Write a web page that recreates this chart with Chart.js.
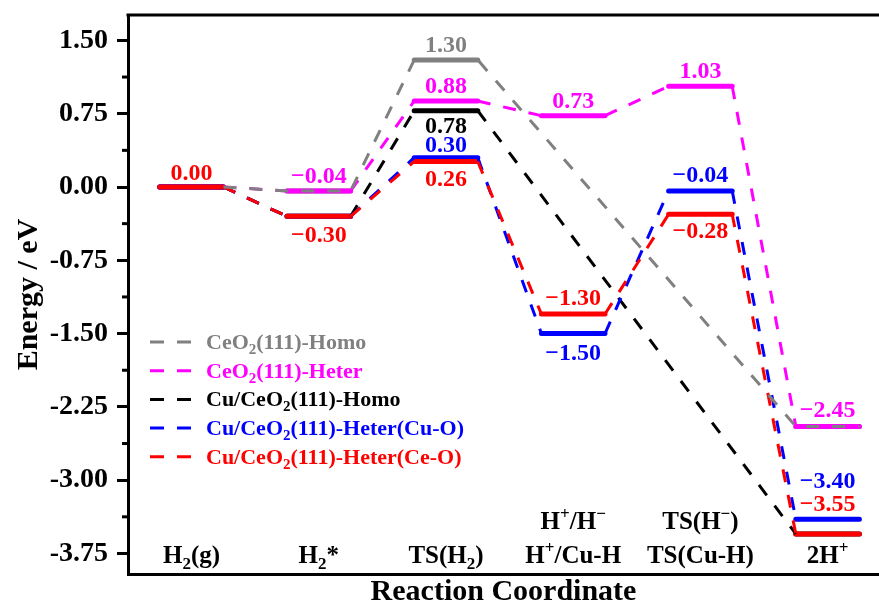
<!DOCTYPE html>
<html>
<head>
<meta charset="utf-8">
<script src="https://cdn.jsdelivr.net/npm/chart.js@4.4.1/dist/chart.umd.min.js"></script>
<style>
  html, body { margin: 0; padding: 0; background: #fff; }
  #wrap { width: 879px; height: 605px; overflow: hidden; }
</style>
</head>
<body>
<div id="wrap"><canvas id="energyChart" width="879" height="605"></canvas></div>
<script>
// stage names, "_x" = subscript, "^x" = superscript
const stageLabels = [['H_2(g)'], ['H_2*'], ['TS(H_2)'], ['H^+/H^−', 'H^+/Cu-H'], ['TS(H^−)', 'TS(Cu-H)'], ['2H^+']];

const seriesNames = ['CeO_2(111)-Homo', 'CeO_2(111)-Heter', 'Cu/CeO_2(111)-Homo', 'Cu/CeO_2(111)-Heter(Cu-O)', 'Cu/CeO_2(111)-Heter(Ce-O)'];
const seriesColors = ['#808080', '#ff00ff', '#000000', '#0000ff', '#ff0000'];

// energies in eV for each stage, null = stage not on that path
const ceo2Homo   = [0.00, -0.04, 1.30, null,  null,  -2.45];
const ceo2Heter  = [0.00, -0.04, 0.88, 0.73,  1.03,  -2.45];
const cuHomo     = [0.00, -0.30, 0.78, null,  null,  -3.55];
const cuHeterCuO = [0.00, -0.30, 0.30, -1.50, -0.04, -3.40];
const cuHeterCeO = [0.00, -0.30, 0.26, -1.30, -0.28, -3.55];

const yTicks = [1.50, 0.75, 0.00, -0.75, -1.50, -2.25, -3.00, -3.75];

const allSeries = [ceo2Homo, ceo2Heter, cuHomo, cuHeterCuO, cuHeterCeO];

// where the value text sits: baseline offset in px from the level, null = no text
const labelOffsets = [
  [null, null, -8, null, null, null],
  [null, -8, -8, -8, -8, -9],
  [null, null, 22, null, null, null],
  [null, null, -6, 26, -9, -31],
  [-7, 26, 24, -9, 24, -23]
];

const HALF = 0.25;
const FONT = "'Liberation Serif', 'Times New Roman', serif";

function levelPoints(vals) {
  const pts = [];
  vals.forEach((v, i) => {
    if (v === null) return;
    pts.push({x: i - HALF, y: v}, {x: i + HALF, y: v}, {x: i + HALF, y: null});
  });
  return pts;
}

// dashed links from the end of one level to the start of the next
function linkPoints(vals, through) {
  const idx = [];
  vals.forEach((v, i) => { if (v !== null) idx.push(i); });
  const pts = [];
  for (let k = 0; k < idx.length - 1; k++) {
    const a = idx[k], b = idx[k + 1];
    if (through) {
      if (k === 0) pts.push({x: a + HALF, y: vals[a]});
      pts.push({x: b - HALF, y: vals[b]}, {x: b + HALF, y: vals[b]});
    } else {
      pts.push({x: a + HALF, y: vals[a]}, {x: b - HALF, y: vals[b]}, {x: b - HALF, y: null});
    }
  }
  return pts;
}

function drawRich(ctx, text, x, y, size, color, align) {
  const parts = [];
  for (let i = 0; i < text.length; i++) {
    const c = text[i];
    if ((c === '_' || c === '^') && i + 1 < text.length) {
      parts.push({t: text[i + 1], k: c});
      i++;
    } else if (parts.length && parts[parts.length - 1].k === 'n') {
      parts[parts.length - 1].t += c;
    } else {
      parts.push({t: c, k: 'n'});
    }
  }
  const small = Math.round(size * 0.68);
  const fontOf = k => 'bold ' + (k === 'n' ? size : small) + 'px ' + FONT;
  let w = 0;
  parts.forEach(p => { ctx.font = fontOf(p.k); p.w = ctx.measureText(p.t).width; w += p.w; });
  let cx = align === 'center' ? x - w / 2 : x;
  ctx.fillStyle = color;
  ctx.textAlign = 'left';
  ctx.textBaseline = 'alphabetic';
  parts.forEach(p => {
    ctx.font = fontOf(p.k);
    const dy = p.k === '_' ? size * 0.22 : (p.k === '^' ? -size * 0.42 : 0);
    ctx.fillText(p.t, cx, y + dy);
    cx += p.w;
  });
}

const decorPlugin = {
  id: 'decor',
  afterDraw(chart) {
    const ctx = chart.ctx;
    const area = chart.chartArea;
    const xs = chart.scales.x, ys = chart.scales.y;
    ctx.save();

    // top frame line
    ctx.strokeStyle = '#000';
    ctx.lineWidth = 3;
    ctx.beginPath();
    ctx.moveTo(area.left - 1.5, area.top);
    ctx.lineTo(area.right, area.top);
    ctx.stroke();

    // minor ticks
    ctx.lineWidth = 3;
    for (let i = 0; i < yTicks.length - 1; i++) {
      const yp = ys.getPixelForValue((yTicks[i] + yTicks[i + 1]) / 2);
      ctx.beginPath();
      ctx.moveTo(area.left - 6, yp);
      ctx.lineTo(area.left, yp);
      ctx.stroke();
    }

    // value labels
    allSeries.forEach((vals, s) => {
      vals.forEach((v, i) => {
        const off = labelOffsets[s][i];
        if (v === null || off === null) return;
        const txt = v.toFixed(2).replace('-', '−');
        ctx.font = 'bold 24px ' + FONT;
        ctx.fillStyle = seriesColors[s];
        ctx.textAlign = 'center';
        ctx.textBaseline = 'alphabetic';
        ctx.fillText(txt, xs.getPixelForValue(i), ys.getPixelForValue(v) + off);
      });
    });

    // stage names inside the plot bottom
    stageLabels.forEach((lines, i) => {
      const xp = xs.getPixelForValue(i);
      lines.forEach((ln, j) => {
        const yp = area.bottom - 11 - (lines.length - 1 - j) * 34;
        drawRich(ctx, ln, xp, yp, 25, '#000', 'center');
      });
    });

    // legend
    const lx = area.left + 22, ly = area.top + 327, rowH = 28.7;
    seriesNames.forEach((name, s) => {
      const y = ly + s * rowH;
      ctx.strokeStyle = seriesColors[s];
      ctx.lineWidth = 3;
      ctx.setLineDash([14, 13]);
      ctx.beginPath();
      ctx.moveTo(lx, y);
      ctx.lineTo(lx + 42, y);
      ctx.stroke();
      ctx.setLineDash([]);
      drawRich(ctx, name, lx + 56, y + 7, 22, seriesColors[s], 'left');
    });

    ctx.restore();
  }
};

Chart.defaults.font.family = FONT;
Chart.defaults.color = '#000';

const datasets = [];
// dashed links on top (first dataset is drawn last)
[0, 4, 3, 2, 1].forEach(s => {
  datasets.push({
    data: linkPoints(allSeries[s], s === 0),
    borderColor: seriesColors[s],
    borderWidth: 3,
    borderDash: [13, 13],
    pointRadius: 0,
    spanGaps: false,
    fill: false
  });
});
[4, 3, 1, 2, 0].forEach(s => {
  datasets.push({
    data: levelPoints(allSeries[s]),
    borderColor: seriesColors[s],
    borderWidth: 5,
    borderCapStyle: 'round',
    pointRadius: 0,
    spanGaps: false,
    fill: false
  });
});

const ctx = document.getElementById('energyChart').getContext('2d');
new Chart(ctx, {
  type: 'line',
  data: { datasets: datasets },
  options: {
    responsive: false,
    animation: false,
    devicePixelRatio: 1,
    layout: { padding: { top: 15, left: 2, right: 0, bottom: 0 } },
    plugins: { legend: { display: false }, tooltip: { enabled: false } },
    elements: { line: { tension: 0 } },
    scales: {
      x: {
        type: 'linear',
        min: -0.5,
        max: 5.404,
        ticks: { display: false },
        grid: { display: false, drawTicks: false },
        border: { display: true, color: '#000', width: 3 },
        title: {
          display: true,
          text: 'Reaction Coordinate',
          color: '#000',
          font: { size: 30, weight: 'bold' },
          padding: { top: 0, bottom: -5 }
        },
        afterFit: s => { s.height = 31; s.paddingLeft = 0; s.paddingRight = 0; }
      },
      y: {
        min: -3.96,
        max: 1.76,
        afterBuildTicks: s => { s.ticks = yTicks.map(v => ({value: v})); },
        ticks: {
          color: '#000',
          font: { size: 28, weight: 'bold' },
          padding: 9,
          callback: v => Number(v).toFixed(2)
        },
        grid: { drawOnChartArea: false, tickLength: 11, tickWidth: 3, tickColor: '#000' },
        border: { display: true, color: '#000', width: 3 },
        title: {
          display: true,
          text: 'Energy / eV',
          color: '#000',
          font: { size: 30, weight: 'bold' },
          padding: { top: 9, bottom: 0 }
        },
        afterFit: s => { s.width = 126; s.paddingTop = 0; s.paddingBottom = 0; }
      }
    }
  },
  plugins: [decorPlugin]
});
</script>
</body>
</html>
